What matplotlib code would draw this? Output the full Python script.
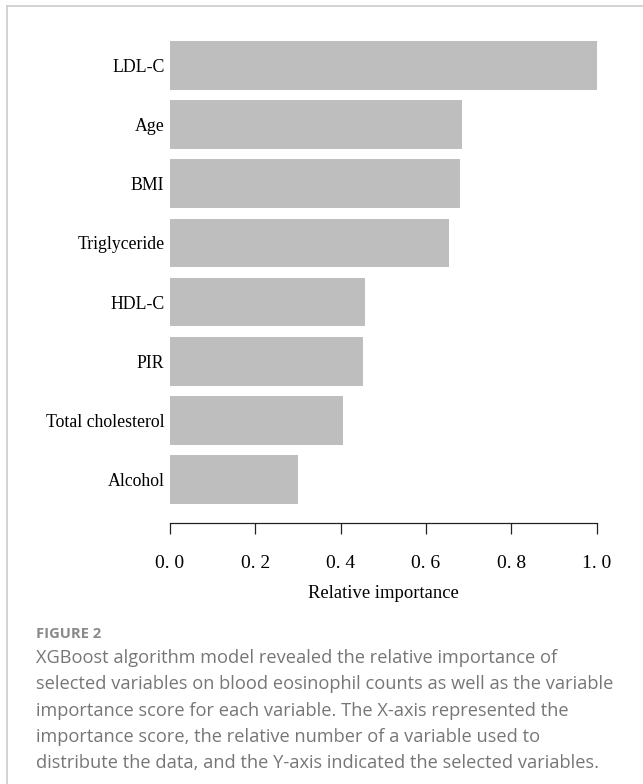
import matplotlib
matplotlib.use("Agg")
import matplotlib.pyplot as plt
from matplotlib.lines import Line2D

variables = ["LDL-C", "Age", "BMI", "Triglyceride", "HDL-C", "PIR",
             "Total cholesterol", "Alcohol"]
importance = [1.0, 0.684, 0.680, 0.655, 0.456, 0.452, 0.405, 0.299]
xticks = [0.0, 0.2, 0.4, 0.6, 0.8, 1.0]
xtick_labels = ["0. 0", "0. 2", "0. 4", "0. 6", "0. 8", "1. 0"]
xlabel = "Relative importance"
fig_label = "FIGURE 2"
caption_lines = [
    "XGBoost algorithm model revealed the relative importance of",
    "selected variables on blood eosinophil counts as well as the variable",
    "importance score for each variable. The X-axis represented the",
    "importance score, the relative number of a variable used to",
    "distribute the data, and the Y-axis indicated the selected variables.",
]

W, H = 643, 784
fig = plt.figure(figsize=(W / 100, H / 100), dpi=100)
fig.patch.set_facecolor("white")

def fx(px):
    return px / W

def fy(py):
    return 1 - py / H

# axes placement (pixels)
left_px, right_px = 170, 596.7
top_px, bottom_px = 35.1, 522.7
ax = fig.add_axes([fx(left_px), fy(bottom_px), fx(right_px - left_px),
                   (bottom_px - top_px) / H])

n = len(variables)
ypos = list(range(n - 1, -1, -1))
ax.barh(ypos, importance, height=0.82, color="#bebebe", edgecolor="none")
ax.set_xlim(0, 1.0)
ax.set_ylim(-0.726, 7.51)

ax.set_yticks(ypos)
ax.set_yticklabels(variables, fontsize=12.8, family="Liberation Serif")
ax.tick_params(axis="y", length=0, pad=4)

ax.set_xticks(xticks)
ax.set_xticklabels(xtick_labels, fontsize=14, family="Liberation Serif")
ax.tick_params(axis="x", length=8.1, width=0.9, pad=15, colors="#222222",
               labelcolor="black")

for s in ["top", "right", "left"]:
    ax.spines[s].set_visible(False)
ax.spines["bottom"].set_linewidth(0.9)
ax.spines["bottom"].set_color("#222222")

fig.text(fx((left_px + right_px) / 2), fy(597.5), xlabel, ha="center",
         va="baseline", fontsize=13.4, family="Liberation Serif", color="black")

# caption
fig.text(fx(36), fy(637.7), fig_label, ha="left", va="baseline",
         fontsize=10.6, family="Open Sans", fontweight="bold", color="#8a8a8a")
for i, line in enumerate(caption_lines):
    fig.text(fx(36), fy(662.7 + 26.4 * i), line, ha="left", va="baseline",
             fontsize=13.15, family="Open Sans", color="#767676")

# border lines
fig.add_artist(Line2D([fx(6.5), fx(6.5)], [fy(6), 0], color="#cccccc",
                      lw=1.2, transform=fig.transFigure))
fig.add_artist(Line2D([fx(6.5), 1], [fy(6), fy(6)], color="#cccccc",
                      lw=1.2, transform=fig.transFigure))

fig.savefig("out.png", dpi=100, facecolor="white")
